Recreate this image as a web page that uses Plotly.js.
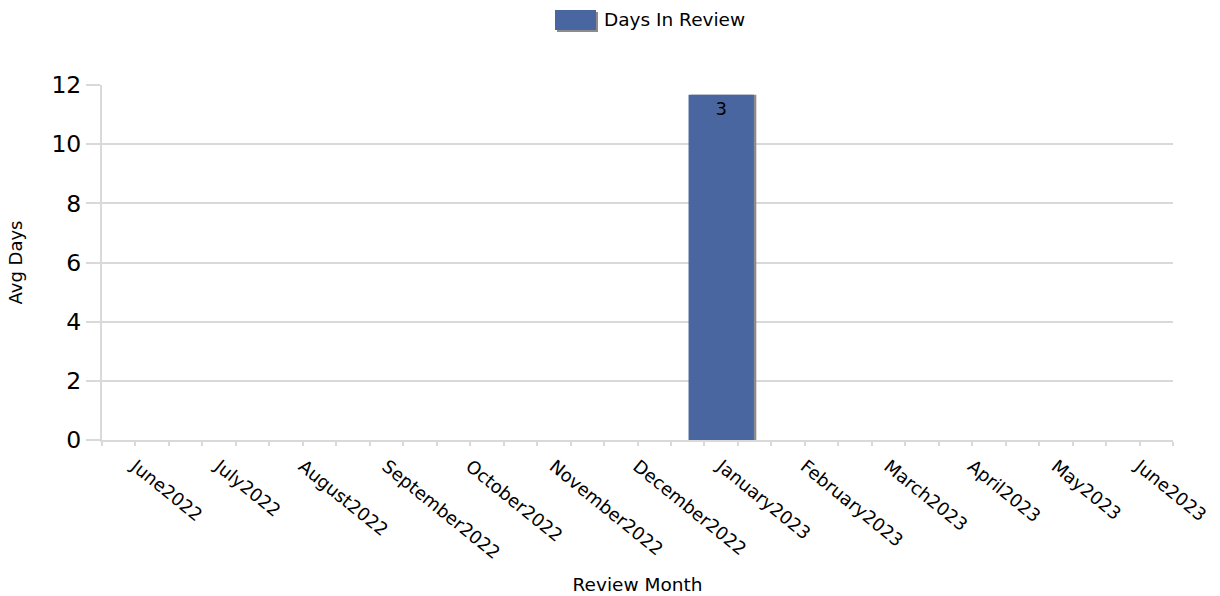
<!DOCTYPE html>
<html>
<head>
<meta charset="utf-8">
<script src="https://cdn.plot.ly/plotly-3.0.1.min.js"></script>
<style>html,body{margin:0;padding:0;background:#fff;}#chart{width:1220px;height:596px;}</style>
</head>
<body>
<div id="chart"></div>
<script>
var categories = ["June2022","July2022","August2022","September2022","October2022","November2022","December2022","January2023","February2023","March2023","April2023","May2023","June2023"];
var seriesName = "Days In Review";
var avgDays = [null,null,null,null,null,null,null,11.67,null,null,null,null,null];
var barLabels = ["","","","","","","","3","","","","",""];
var yTicks = [0,2,4,6,8,10,12];

var FONT = "Tahoma, 'DejaVu Sans', Verdana, sans-serif";
var GRID = "#d9d9d9";
var BAR = "#4a66a0";
var positions = categories.map(function(c,i){return i;});

var shadow = {
  type: "bar", x: positions, y: avgDays, width: 0.78, offset: -0.36,
  marker: {color: "#8c8c8c"}, hoverinfo: "skip", showlegend: false
};
var main = {
  type: "bar", name: seriesName, x: positions, y: avgDays, width: 0.78,
  text: barLabels, textposition: "inside", insidetextanchor: "end", textangle: 0,
  textfont: {family: FONT, size: 18, color: "#000"},
  marker: {color: BAR}, showlegend: false
};

var layout = {
  width: 1220, height: 596,
  margin: {l: 102, r: 47, t: 85, b: 156},
  paper_bgcolor: "#fff", plot_bgcolor: "#fff",
  barmode: "overlay",
  font: {family: FONT, color: "#000"},
  showlegend: false,
  xaxis: {
    range: [-0.4, 12.4], tickvals: positions, ticktext: categories,
    tickangle: 39, ticks: "outside", ticklen: 7, tickcolor: "rgba(0,0,0,0)",
    tickfont: {family: FONT, size: 18},
    showgrid: false, zeroline: false, showline: true, linecolor: GRID, linewidth: 2,
    minor: {ticks: "outside", ticklen: 4, tickwidth: 2, tickcolor: GRID, dtick: 0.4, tick0: -0.4, showgrid: false},
    title: {text: "Review Month", font: {family: FONT, size: 18.5}, standoff: 16}
  },
  xaxis2: {
    overlaying: "x", side: "bottom", range: [-0.4, 12.4], dtick: 2, tick0: 0,
    ticks: "outside", ticklen: 8, tickwidth: 2, tickcolor: GRID,
    showticklabels: false, showgrid: false, zeroline: false, showline: false
  },
  yaxis: {
    range: [0, 12], tickvals: yTicks, ticks: "outside", ticklen: 14, tickwidth: 2, tickcolor: GRID,
    tickfont: {family: FONT, size: 23.5},
    showgrid: true, gridcolor: GRID, gridwidth: 2, zeroline: false,
    showline: true, linecolor: GRID, linewidth: 2,
    title: {text: "Avg Days", font: {family: FONT, size: 18}, standoff: 24}
  },
  shapes: [
    {type: "rect", xref: "paper", yref: "paper", x0: (557-102)/1071, x1: (598-102)/1071,
     y0: 1 + (85-32)/355, y1: 1 + (85-12)/355, fillcolor: "#8c8c8c", line: {width: 0}},
    {type: "rect", xref: "paper", yref: "paper", x0: (555-102)/1071, x1: (596-102)/1071,
     y0: 1 + (85-30)/355, y1: 1 + (85-10)/355, fillcolor: BAR, line: {width: 0}}
  ],
  annotations: [
    {xref: "paper", yref: "paper", x: (602-102)/1071, y: 1 + (85-19)/355, xanchor: "left", yanchor: "middle",
     text: seriesName, showarrow: false, font: {family: FONT, size: 18.5, color: "#000"}}
  ]
};

Plotly.newPlot("chart", [shadow, main], layout, {displayModeBar: false, staticPlot: true});
</script>
</body>
</html>
